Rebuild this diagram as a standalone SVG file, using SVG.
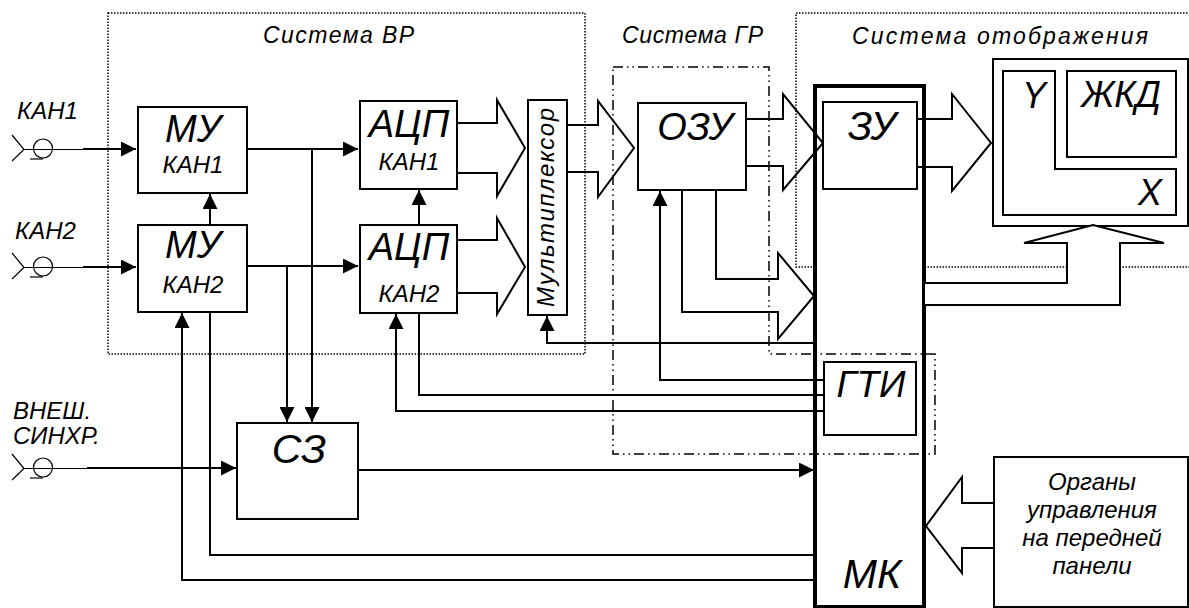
<svg xmlns="http://www.w3.org/2000/svg" width="1189" height="608" viewBox="0 0 1189 608">
<style>
.box{fill:#fff;stroke:#000;stroke-width:2}
.mk{fill:#fff;stroke:#000;stroke-width:4}
.ln{fill:none;stroke:#000;stroke-width:2}
.thin{fill:none;stroke:#000;stroke-width:1.2}
.blk{fill:none;stroke:#000;stroke-width:2;stroke-linejoin:miter}
.dot{fill:none;stroke:#000;stroke-width:1.5;stroke-dasharray:1.5 1.5}
.dd{fill:none;stroke:#000;stroke-width:1.5;stroke-dasharray:10 4 1.5 4 1.5 4}
text{font-family:"Liberation Sans",Arial,sans-serif;font-style:italic;fill:#000}
.big{font-size:38px;text-anchor:middle}
.mid{font-size:24px}
.midc{font-size:24px;text-anchor:middle}
.ttl{font-size:23px}
.org{font-size:24px;text-anchor:middle}
</style>
<defs>
<marker id="ah" markerUnits="userSpaceOnUse" markerWidth="15" markerHeight="15" refX="15" refY="7.5" orient="auto">
<path d="M0,0 L15,7.5 L0,15 z" fill="#000"/>
</marker>
<g id="conn">
<path d="M12,-14 L24,0.5 L12,12" class="thin"/>
<circle cx="43" cy="-0.5" r="9.5" class="thin"/>
<path d="M30,10 H43" class="thin"/>
</g>
</defs>

<g id="groups">
<rect x="108" y="13" width="477" height="341" class="dot"/>
<rect x="796" y="13" width="400" height="254" class="dot"/>
</g>

<g id="MK"><rect x="815" y="86" width="109" height="521" class="mk"/>
<text x="872" y="588" class="big" style="font-size:41px">МК</text></g>

<g id="GR-group"><path d="M613,67 H769 V354 H935 V454 H613 Z" class="dd"/></g>

<g id="titles">
<text x="263" y="43" class="ttl" textLength="151">Система ВР</text>
<text x="622" y="43" class="ttl" textLength="141">Система ГР</text>
<text x="852" y="44" class="ttl" textLength="296">Система отображения</text>
</g>

<g id="inputs">
<use href="#conn" x="0" y="149"/>
<text x="17" y="119" class="mid">КАН1</text>
<use href="#conn" x="0" y="267"/>
<text x="15" y="239" class="mid">КАН2</text>
<use href="#conn" x="0" y="468"/>
<text x="13" y="419" class="mid">ВНЕШ.</text>
<text x="13" y="444" class="mid">СИНХР.</text>
</g>

<g id="MU1"><rect x="138" y="107" width="109" height="86" class="box"/>
<text x="193" y="142" class="big">МУ</text><text x="193" y="173" class="midc">КАН1</text></g>
<g id="MU2"><rect x="138" y="225" width="109" height="87" class="box"/>
<text x="193" y="258" class="big">МУ</text><text x="193" y="293" class="midc">КАН2</text></g>
<g id="ADC1"><rect x="360" y="101" width="97" height="88" class="box"/>
<text x="409" y="137" class="big">АЦП</text><text x="409" y="170" class="midc">КАН1</text></g>
<g id="ADC2"><rect x="360" y="225" width="97" height="88" class="box"/>
<text x="409" y="260" class="big">АЦП</text><text x="409" y="302" class="midc">КАН2</text></g>
<g id="MUX"><rect x="528" y="100" width="39" height="215" class="box"/>
<text transform="translate(554,207.5) rotate(-90)" style="font-size:24px;text-anchor:middle" textLength="199">Мультиплексор</text></g>
<g id="OZU"><rect x="638" y="103" width="108" height="87" class="box"/>
<text x="695" y="140" class="big">ОЗУ</text></g>
<g id="ZU"><rect x="823" y="102" width="94" height="87" class="box"/>
<text x="872" y="140" class="big" style="font-size:40px">ЗУ</text></g>
<g id="GTI"><rect x="824" y="362" width="92" height="73" class="box"/>
<text x="871" y="397" class="big" style="font-size:37px">ГТИ</text></g>
<g id="SZ"><rect x="237" y="423" width="121" height="96" class="box"/>
<text x="299" y="463" class="big" style="font-size:41px">СЗ</text></g>
<g id="display">
<rect x="993" y="59" width="195" height="167" class="box"/>
<path d="M1003,71 H1055 V169 H1176 V215 H1003 Z" class="box"/>
<rect x="1067" y="71" width="109" height="86" class="box"/>
<text x="1034" y="108" class="big" style="font-size:36px">Y</text>
<text x="1121" y="107" class="big" style="font-size:36px">ЖКД</text>
<text x="1150" y="205" class="big" style="font-size:36px">X</text>
</g>
<g id="controls"><rect x="994" y="457" width="194" height="150" class="box"/>
<text x="1092" y="490" class="org">Органы</text>
<text x="1092" y="518" class="org">управления</text>
<text x="1092" y="546" class="org">на передней</text>
<text x="1092" y="574" class="org">панели</text>
</g>

<g id="connectors">
<path d="M24,149.5 H83" class="thin"/>
<path d="M83,149 H136" class="ln" marker-end="url(#ah)"/>
<path d="M24,267.5 H83" class="thin"/>
<path d="M83,267 H136" class="ln" marker-end="url(#ah)"/>
<path d="M24,468.5 H87" class="thin"/>
<path d="M87,468 H236" class="ln" marker-end="url(#ah)"/>
<path d="M247,149 H358" class="ln" marker-end="url(#ah)"/>
<path d="M312,149 V422" class="ln" marker-end="url(#ah)"/>
<path d="M247,266 H358" class="ln" marker-end="url(#ah)"/>
<path d="M287,266 V422" class="ln" marker-end="url(#ah)"/>
<path d="M210,225 V194" class="ln" marker-end="url(#ah)"/>
<path d="M419,225 V190" class="ln" marker-end="url(#ah)"/>
<path d="M210,312 V555 H815" class="ln"/>
<path d="M815,580 H182 V313" class="ln" marker-end="url(#ah)"/>
<path d="M419,313 V395 H824" class="ln"/>
<path d="M824,411 H396 V314" class="ln" marker-end="url(#ah)"/>
<path d="M824,380 H660 V191" class="ln" marker-end="url(#ah)"/>
<path d="M815,343 H547 V316" class="ln" marker-end="url(#ah)"/>
<path d="M358,470 H814" class="ln" marker-end="url(#ah)"/>
</g>

<g id="bus-arrows">
<path d="M457,123 H497 V100 L525,148 L497,196 V173 H457" class="blk"/>
<path d="M457,240 H497 V218 L525,267 L497,314 V293 H457" class="blk"/>
<path d="M567,125 H598 V101 L634,148 L598,197 V172 H567" class="blk"/>
<path d="M746,119 H783 V94 L823,143 L783,190 V166 H746" class="blk"/>
<path d="M917,119 H952 V94 L991,143 L952,191 V167 H917" class="blk"/>
<path d="M716,190 V279 H778 V253 L814,296 L778,339 V312 H682 V190" class="blk"/>
<path d="M994,503 H962 V477 L926,526 L962,573 V548 H994" class="blk"/>
<path d="M925,283 H1067 V243 H1024 L1093,225 L1164,243 H1120 V305 H925" class="blk" style="fill:#fff"/>
</g>
</svg>
